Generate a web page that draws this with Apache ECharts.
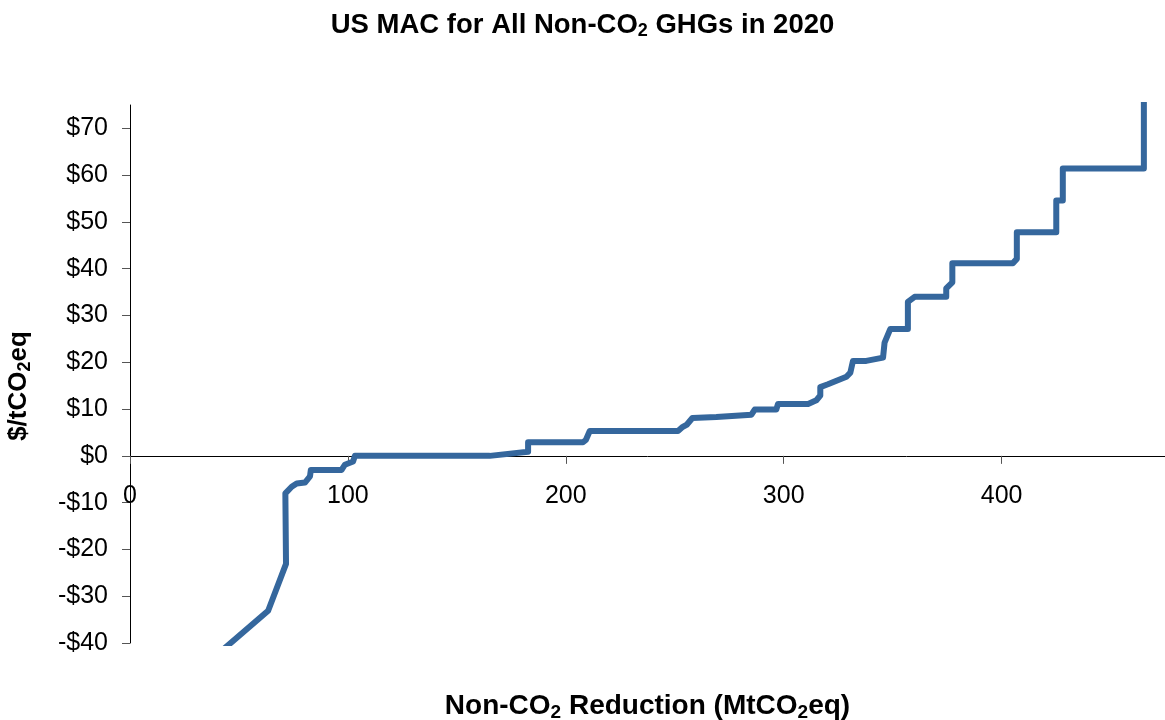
<!DOCTYPE html>
<html>
<head>
<meta charset="utf-8">
<script src="https://cdn.jsdelivr.net/npm/echarts@6/dist/echarts.min.js"></script>
<style>
html,body{margin:0;padding:0;background:#fff;}
#chart{width:1165px;height:720px;}
</style>
</head>
<body>
<div id="chart"></div>
<script>
// Cumulative non-CO2 reduction (MtCO2eq)
var reduction = [35, 63.4, 71.6, 71.3, 74.2, 76.5, 80.3, 82.6, 83.0, 97.1, 98.6, 102.4, 103.2, 165.1, 182.7, 182.7, 207.9, 209.2, 211.0, 251.5, 253.7, 255.6, 258.1, 269.1, 285.2, 286.7, 296.6, 297.4, 311.2, 315.0, 316.8, 316.8, 320.3, 328.8, 330.6, 331.8, 337.9, 345.6, 346.3, 348.9, 357.0, 357.0, 360.1, 374.6, 374.6, 377.4, 377.4, 405.2, 407.0, 407.0, 425.1, 425.1, 428.1, 428.1, 465.3, 465.3];
// Marginal abatement cost ($/tCO2eq)
var cost = [-44.5, -33.1, -23.1, -8.0, -6.6, -5.9, -5.7, -4.4, -3.0, -3.0, -1.9, -1.2, 0, 0, 0.9, 2.9, 2.9, 3.4, 5.3, 5.3, 6.2, 6.7, 8.1, 8.3, 8.8, 9.9, 9.9, 11.1, 11.1, 11.9, 12.9, 14.7, 15.3, 16.9, 17.8, 20.3, 20.3, 21.0, 24.2, 27.1, 27.1, 32.9, 34.0, 34.0, 35.8, 37.1, 41.2, 41.2, 42.1, 47.8, 47.8, 54.6, 54.6, 61.4, 61.4, 80];
var xTicks = [0, 100, 200, 300, 400];
var yTicks = [-40, -30, -20, -10, 0, 10, 20, 30, 40, 50, 60, 70];

var pairs = reduction.map(function (x, i) { return [x, cost[i]]; });
var FONT = '"Liberation Sans", Arial, sans-serif';

var chart = echarts.init(document.getElementById('chart'), null, {renderer: 'canvas'});
chart.setOption({
  animation: false,
  backgroundColor: '#ffffff',
  title: {
    text: 'US MAC for All Non-CO{sub|2} GHGs in 2020',
    left: 'center',
    top: 5,
    textStyle: {
      fontFamily: FONT, fontWeight: 'bold', fontSize: 27.5, color: '#000',
      rich: { sub: { fontFamily: FONT, fontWeight: 'bold', fontSize: 18, color: '#000', padding: [12, 0, 0, 0] } }
    }
  },
  grid: { left: 130, right: 0, top: 105, bottom: 77, containLabel: false, outerBoundsMode: 'none' },
  xAxis: {
    type: 'value',
    min: 0, max: 475, interval: 100,
    name: 'Non-CO{sub|2} Reduction (MtCO{sub|2}eq)',
    nameLocation: 'middle',
    nameGap: 48,
    nameMoveOverlap: false,
    nameTextStyle: {
      fontFamily: FONT, fontWeight: 'bold', fontSize: 28, color: '#000',
      rich: { sub: { fontFamily: FONT, fontWeight: 'bold', fontSize: 19, color: '#000', padding: [12, 0, 0, 0] } }
    },
    axisLine: { show: true, onZero: true, lineStyle: { color: '#000', width: 1 } },
    axisTick: { show: true, customValues: xTicks, length: 8, lineStyle: { color: '#555' } },
    axisLabel: { customValues: xTicks, margin: -159, fontFamily: FONT, fontSize: 25, color: '#000' },
    splitLine: { show: false }
  },
  yAxis: {
    type: 'value',
    min: -40, max: 75, interval: 10,
    name: '$/tCO{sub|2}eq',
    nameLocation: 'middle',
    nameRotate: 90,
    nameGap: 96,
    nameMoveOverlap: false,
    nameTextStyle: {
      fontFamily: FONT, fontWeight: 'bold', fontSize: 26, color: '#000',
      padding: [0, 24, 0, 0],
      rich: { sub: { fontFamily: FONT, fontWeight: 'bold', fontSize: 18, color: '#000', padding: [12, 0, 0, 0] } }
    },
    axisLine: { show: true, onZero: false, lineStyle: { color: '#000', width: 1 } },
    axisTick: { show: true, customValues: yTicks, length: 8, lineStyle: { color: '#555' } },
    axisLabel: {
      customValues: yTicks, margin: 22, fontFamily: FONT, fontSize: 25, color: '#000',
      formatter: function (v) { return v < 0 ? '-$' + Math.abs(v) : '$' + v; }
    },
    splitLine: { show: false }
  },
  series: [{
    type: 'line',
    data: pairs,
    showSymbol: false,
    clip: true,
    lineStyle: { color: '#35679D', width: 6, cap: 'round', join: 'round' }
  }]
});
</script>
</body>
</html>
